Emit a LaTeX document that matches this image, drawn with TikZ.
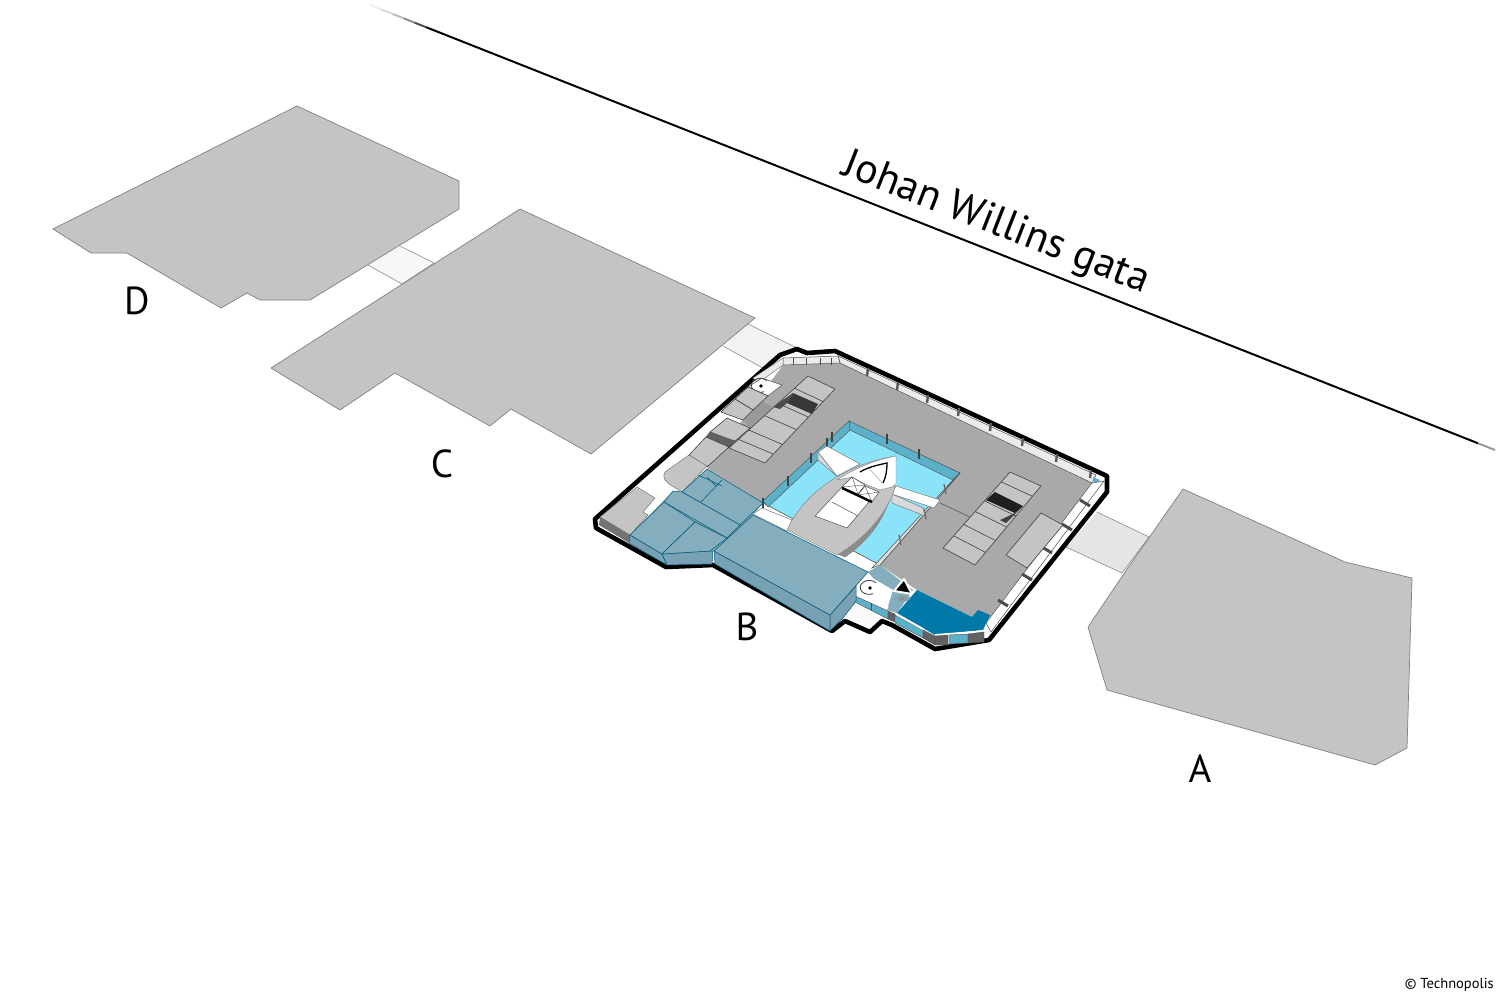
\documentclass[tikz,border=0pt]{standalone}
\usepackage{fontspec}
\setmainfont{PT Sans}
\usepackage{tikz}
\usetikzlibrary{calc, positioning}

\definecolor{blockgray}{HTML}{C4C4C4}
\definecolor{floorgray}{HTML}{A9A9A9}
\definecolor{poolcyan}{HTML}{8AE3F8}
\definecolor{wallteal}{HTML}{5CB0C8}
\definecolor{slateblue}{HTML}{84ADBD}
\definecolor{slateside}{HTML}{78A2B3}
\definecolor{deepblue}{HTML}{0079A8}

\newcommand{\liftsign}[2]{
  \fill (#1,#2) circle (1.8pt);
  \draw[line width=0.9pt,black!70] (#1,#2) ++(40:8pt) arc[start angle=40, end angle=295, x radius=9pt, y radius=7pt];
}

\begin{document}
\begin{tikzpicture}[x=1pt,y=-1pt,
  building/.style={draw=black!50,line width=0.7pt,fill=blockgray},
  bridge/.style={draw=black!45,line width=0.6pt},
  letter/.style={font=\fontsize{39}{39}\selectfont,inner sep=0pt},
  cell/.style={draw=black!75,line width=0.6pt,fill=blockgray},
  slate/.style={draw=deepblue!70!black,line width=0.5pt,fill=slateblue},
  sideface/.style={draw=deepblue!70!black,line width=0.5pt,fill=slateside},
  glass/.style={draw=black!70,line width=0.4pt,fill=wallteal},
  darkcell/.style={draw=black!70,line width=0.4pt,fill=black!62},
  post/.style={draw=black!75,line width=1.8pt},
  whitepost/.style={draw=black!65,line width=0.6pt,fill=white}]
  \useasboundingbox (0,0) rectangle (1499,999);

  % street line
  \foreach \a/\b/\g in {0.00/0.01/6,0.01/0.02/14,0.02/0.03/26,0.03/0.04/45,0.04/0.05/70}
    \draw[line width=2pt,black!\g] ($(370,5)!\a!(1495,450)$) -- ($(370,5)!\b!(1495,450)$);
  \draw[line width=2pt] ($(370,5)!0.05!(1495,450)$) -- ($(370,5)!0.985!(1495,450)$);
  \draw[line width=2pt,black!40] ($(370,5)!0.985!(1495,450)$) -- (1495,450);
  \node[font=\fontsize{42}{42}\selectfont,rotate=-21.4,inner sep=0pt] (street) at (996,224) {Johan Willins gata};

  % connecting bridges
  \filldraw[bridge,fill=black!3] (400,246) -- (434,263) -- (402,284) -- (368,265);
  \filldraw[bridge,fill=black!5] (748,324) -- (795,347) -- (770,372) -- (723,346);
  \filldraw[bridge,fill=black!10] (1097,512) -- (1149,537) -- (1122,573) -- (1066,547);

  % neighbouring blocks
  \filldraw[building] (297,106) -- (459,181) -- (459,209) -- (310,300) -- (260,300) -- (247,293)
    -- (221,308) -- (127,253) -- (91,253) -- (53,229) -- cycle;
  \filldraw[building] (520,209) -- (755,318) -- (591,454) -- (511,409) -- (490,426) -- (395,373)
    -- (340,410) -- (271,368) -- cycle;
  \filldraw[building] (1183,489) -- (1345,562) -- (1412,578) -- (1407,748) -- (1375,765)
    -- (1107,690) -- (1088,627) -- (1125,572) -- cycle;

  \node[letter] (labelD) at (137,301) {D};
  \node[letter] (labelC) at (442,464) {C};
  \node[letter] (labelB) at (747,627) {B};
  \node[letter] (labelA) at (1200,769) {A};
  \node[font=\fontsize{14.5}{14.5}\selectfont,anchor=east,inner sep=0pt] (credit) at (1494,985) {© Technopolis};

  % outline of block B
  \filldraw[line width=4.6pt,line join=round,fill=white] (595,519) -- (596,528) -- (666,567) -- (713,565)
    -- (832,631) -- (845,621) -- (870,632) -- (882,621) -- (892,625) -- (935,649) -- (989,640)
    -- (1107,492) -- (1107,476) -- (835,351) -- (807,353) -- (797,349) -- (780,355) -- cycle;

  % main floor
  \fill[floorgray] (783,365) -- (840,363) -- (1092,483) -- (986,623) -- (972,617) -- (917,590)
    -- (883,567) -- (763,503) -- (707,468) -- cycle;

  % back wall
  \filldraw[draw=black!70,line width=0.5pt,fill=black!8] (838,356) -- (1096,475) -- (1092,483) -- (840,363) -- cycle;
  \filldraw[draw=black!70,line width=0.5pt,fill=black!8] (783,358) -- (838,356) -- (840,363) -- (783,365) -- cycle;
  \foreach \x/\y in {868/373,898/387,928/400,959/413,991/428,1023/443,1057/459,1091/475}
    \draw[draw=black!65,line width=2.4pt] (\x,\y-5) -- (\x-1,\y+3);
  \foreach \x in {793,806,820,831}
    \draw[draw=black!70,line width=0.8pt] (\x,358) -- (\x,365);
  \fill[wallteal] (1093,477) -- (1100,480) -- (1095,485) -- cycle;

  % right wall
  \filldraw[draw=black!70,line width=0.5pt,fill=white] (1092,483) -- (1104,481) -- (991,632) -- (986,623) -- cycle;
  \foreach \x/\y in {1085/503,1067/527,1047/550,1027/577,1003/603}
    \draw[draw=black!70,line width=3pt] (\x-5,\y-3) -- (\x+5,\y+3);

  % upper left wall and lift
  \filldraw[draw=black!60,line width=0.4pt,fill=black!8] (783,358) -- (783,365) -- (758,383) -- (753,378) -- cycle;
  \filldraw[whitepost] (748,387) -- (762,378) -- (782,385) -- (768,396) -- cycle;
  \liftsign{761}{386}

  % stairs on the left side
  \fill[black!40] (755,409) -- (763,402) -- (773,407) -- (750,428) -- (743,420) -- cycle;
  \filldraw[cell] (748,387) -- (768,396) -- (753,410) -- (735,399) -- cycle;
  \filldraw[cell] (735,399) -- (753,410) -- (743,420) -- (721,412) -- cycle;
  \filldraw[cell] (727,418) -- (750,428) -- (733,443) -- (710,432) -- cycle;
  \filldraw[darkcell] (710,432) -- (735,441) -- (729,447) -- (706,437) -- cycle;
  \filldraw[cell] (706,437) -- (729,447) -- (707,467) -- (689,455) -- cycle;
  \filldraw[draw=black!60,line width=0.4pt,fill=blockgray] (689,455) -- (707,466) -- (682,492)
    -- (672,486) .. controls (664,481) and (662,476) .. (665,472) -- cycle;
  \filldraw[draw=black!60,line width=0.4pt,fill=blockgray] (600,517) -- (637,487) -- (655,498)
    -- (643,512) -- (648,515) -- (630,535) -- cycle;
  \fill[black!55] (600,517) -- (630,535) -- (629,543) -- (599,525) -- cycle;

  % stairs upper floor
  \coordinate (sa) at (808,376);
  \coordinate (sb) at (835,389);
  \coordinate (sc) at (765,463);
  \coordinate (sd) at (729,448);
  \filldraw[cell] (sa) -- (sb) -- (sc) -- (sd) -- cycle;
  \foreach \t in {0.17,0.38,0.55,0.75,0.88}
    \draw[black!75,line width=0.6pt] ($(sa)!\t!(sd)$) -- ($(sb)!\t!(sc)$);
  \fill[black!78] (793,393) -- (818,404) -- (812,414) -- (787,403) -- cycle;
  \fill[black!70] (793,393) -- (787,403) -- (780,409) -- (773,407) -- cycle;

  % stairs right
  \coordinate (ra) at (1010,472);
  \coordinate (rb) at (1041,486);
  \coordinate (rc) at (975,565);
  \coordinate (rd) at (943,548);
  \filldraw[cell] (ra) -- (rb) -- (rc) -- (rd) -- cycle;
  \foreach \t in {0.13,0.38,0.52,0.69,0.84}
    \draw[black!75,line width=0.6pt] ($(ra)!\t!(rd)$) -- ($(rb)!\t!(rc)$);
  \fill[black!88] (995,492) -- (1023,506) -- (1015,513) -- (986,500) -- cycle;
  \fill[black!75] (1023,506) -- (1006,523) -- (1000,520) -- (1015,513) -- cycle;
  \filldraw[cell] (1041,513) -- (1063,525) -- (1027,568) -- (1006,555) -- cycle;
  \draw[black!70,line width=0.5pt] (940,503) -- (970,517);

  % pool
  \filldraw[draw=black!70,line width=0.5pt,fill=poolcyan] (849,422) -- (960,473) -- (880,565) -- (763,503) -- cycle;
  \filldraw[glass] (849,421) -- (960,473) -- (953,480) -- (850,430) -- cycle;
  \filldraw[glass] (849,421) -- (763,501) -- (768,507) -- (850,430) -- cycle;
  \filldraw[draw=black!70,line width=0.5pt,fill=black!12] (960,473) -- (953,480) -- (872,568) -- (880,565) -- cycle;
  \foreach \x/\y in {887/439,919/454}
    \draw[post] (\x,\y-5) -- (\x,\y+5);
  \foreach \x/\y in {832/437,827/443,811/458,788/481,763/503}
    \draw[post] (\x,\y-5) -- (\x,\y+5);
  \foreach \x/\y in {945/489,925/514,900/540}
    \draw[draw=black!60,line width=1.2pt] (\x-1,\y-5) -- (\x+1,\y+5);

  % walkways to the boat
  \filldraw[draw=black!60,line width=0.4pt,fill=black!15] (818,452) -- (818,460) -- (838,477) -- (837,476) -- cycle;
  \filldraw[draw=black!60,line width=0.4pt,fill=white] (818,452) -- (827,446) -- (860,464) -- (837,476) -- cycle;
  \filldraw[draw=black!60,line width=0.4pt,fill=black!15] (892,494) -- (923,508) -- (925,516) -- (892,503) -- cycle;
  \filldraw[draw=black!60,line width=0.4pt,fill=white] (896,486) -- (940,500) -- (934,508) -- (892,494) -- cycle;
  \filldraw[draw=black!60,line width=0.4pt,fill=white] (753,514) -- (762,508) -- (792,520) -- (787,531) -- cycle;

  % boat
  \filldraw[draw=black!50,line width=0.4pt,fill=black!45] (895,470) .. controls (893,505) and (877,535) .. (845,557)
    -- (835,553) -- cycle;
  \filldraw[draw=black!50,line width=0.4pt,fill=blockgray] (896,456) .. controls (850,463) and (805,490) .. (787,530)
    -- (837,555) .. controls (872,535) and (895,500) .. (895,483) -- cycle;
  \filldraw[draw=black!50,line width=0.4pt,fill=white] (837,480) .. controls (855,468) and (875,460) .. (896,456)
    -- (896,484) -- (892,487) -- (880,490) -- (865,484) -- (852,477) -- cycle;
  \draw[black!35,line width=0.5pt] (868,467) -- (882,483);
  \draw[line width=1.3pt] (860,472) .. controls (868,467) and (878,465) .. (887,463) .. controls (887,470) and (886,477) .. (883,483);
  \foreach \a/\b/\c/\d/\e/\f/\g/\h in {852/477/865/485/858/494/842/487,865/486/879/492/872/502/858/495}{
    \filldraw[draw=black!70,line width=0.5pt,fill=white] (\a,\b) -- (\c,\d) -- (\e,\f) -- (\g,\h) -- cycle;
    \draw[black!70,line width=0.4pt] (\a,\b) -- (\e,\f) (\c,\d) -- (\g,\h);
  }
  \filldraw[draw=black!70,line width=0.5pt,fill=white] (842,487) -- (869,502) -- (847,528) -- (815,516) -- cycle;
  \draw[black!70,line width=0.5pt] (832,502) -- (858,516);
  \draw[line width=2.4pt] (842,488) -- (872,502);

  % white steps
  \fill[black!2] (844,615) -- (855,603) -- (878,617) -- (870,627) -- cycle;

  % slate landing and lower lift
  \fill[slateblue] (868,572) -- (880,565) -- (913,590) -- (897,613) -- (887,610) -- (893,590) -- (873,578) -- cycle;
  \fill[white] (855,590) -- (868,578) -- (893,590) -- (882,605) -- cycle;
  \liftsign{870}{588}

  % dark blue room
  \fill[deepblue] (917,590) -- (897,613) -- (935,635) -- (983,630) -- (990,615) -- (978,610) -- (972,617) -- cycle;
  \shade[inner color=black!45,outer color=slateblue] (902,598) ellipse (8 and 4);
  \filldraw[draw=white,line width=2pt,line join=round,fill=black] (904,579) -- (894,591) -- (912,594) -- cycle;

  % front wall
  \filldraw[glass] (855,596) -- (888,611) -- (888,619) -- (855,602) -- cycle;
  \draw[black!70,line width=0.4pt] (871,603) -- (871,611);
  \filldraw[darkcell] (888,611) -- (895,614) -- (895,622) -- (888,619) -- cycle;
  \filldraw[glass] (895,615) -- (923,630) -- (923,638) -- (895,623) -- cycle;
  \draw[white,line width=1.8pt] (856,592) -- (888,608) (896,614) -- (923,629);
  \draw[white,line width=1.8pt] (935,635) -- (985,631);
  \filldraw[darkcell] (923,630) -- (935,636) -- (935,645) -- (923,638) -- cycle;
  \filldraw[darkcell] (935,636) -- (948,635) -- (948,645) -- (935,645) -- cycle;
  \filldraw[glass] (949,635) -- (968,634) -- (968,643) -- (949,644) -- cycle;
  \filldraw[darkcell] (968,634) -- (984,632) -- (984,642) -- (968,643) -- cycle;

  % slate blocks
  \fill[slateblue] (630,535) -- (673,491) -- (682,492) -- (707,469) -- (763,503) -- (753,515) -- (714,551)
    -- (710,551) -- (662,554) -- cycle;
  \filldraw[sideface] (714,551) -- (830,615) -- (830,631) -- (715,564) -- cycle;
  \filldraw[sideface] (830,615) -- (856,586) -- (856,601) -- (843,618) -- (830,631) -- cycle;
  \filldraw[slate] (753,515) -- (868,572) -- (830,615) -- (714,551) -- cycle;
  \filldraw[slate] (707,469) -- (763,503) -- (740,525) -- (682,492) -- cycle;
  \draw[deepblue!70!black,line width=0.5pt] (698,475) -- (722,486) (722,480) -- (701,502) (707,477) -- (716,486);
  \filldraw[slate] (673,491) -- (682,492) -- (740,525) -- (727,538) -- (664,502) -- cycle;
  \filldraw[sideface] (630,535) -- (662,554) -- (667,565) -- (629,543) -- cycle;
  \filldraw[sideface] (662,554) -- (710,551) -- (713,551) -- (712,564) -- (667,565) -- cycle;
  \filldraw[slate] (630,535) -- (664,502) -- (695,522) -- (662,554) -- cycle;
  \filldraw[slate] (695,522) -- (727,538) -- (710,551) -- (662,554) -- cycle;
\end{tikzpicture}
\end{document}
